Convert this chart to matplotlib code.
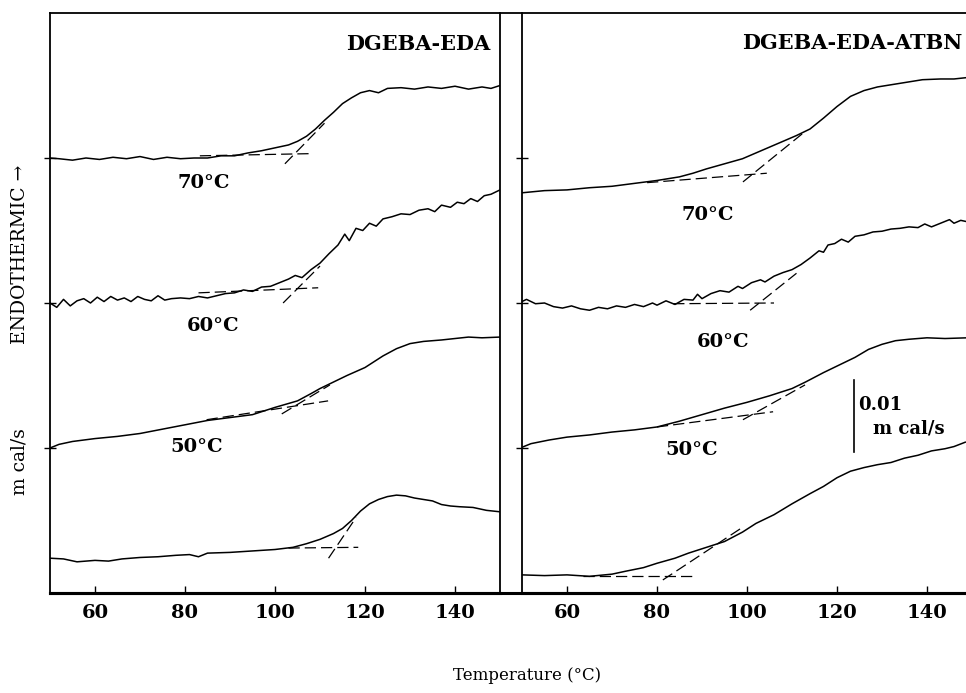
import matplotlib
matplotlib.use("Agg")
import matplotlib.pyplot as plt

plt.rcParams['font.family'] = ['DejaVu Serif']
plt.rcParams['font.weight'] = 'bold'

# heat flow in units of 0.001 m cal/s (offset traces), temperature in degC
# ---- DGEBA-EDA ----
l70_t = [50, 52, 55, 58, 61, 64, 67, 70, 73, 76, 79, 82, 85, 88, 91, 94, 97, 100, 103, 105,
         107, 109, 111, 113, 115, 117, 119, 121, 123, 125, 128, 131, 134, 137, 140, 143, 146, 148, 150]
l70_y = [60.0, 59.9, 59.7, 60.0, 59.8, 60.1, 59.9, 60.2, 59.8, 60.1, 59.9, 60.0, 60.0, 60.3, 60.3, 60.7,
         61.0, 61.4, 61.8, 62.3, 63.0, 64.0, 65.2, 66.3, 67.5, 68.3, 69.0, 69.3, 69.0, 69.6, 69.7,
         69.5, 69.8, 69.6, 69.9, 69.5, 69.8, 69.6, 70.0]

l60_t = [50, 51.5, 53, 54.5, 56, 57.5, 59, 60.5, 62, 63.5, 65, 66.5, 68, 69.5, 71, 72.5, 74, 75.5,
         77, 79, 81, 83, 85, 87, 89, 91, 93, 95, 97, 99, 101, 103, 104.5, 106, 108, 110, 112, 114,
         115.5, 116.5, 118, 119.5, 121, 122.5, 124, 126, 128, 130, 132, 134, 135.5, 137, 139, 140.5,
         142, 143.5, 145, 146.5, 148, 150]
l60_y = [40.0, 39.4, 40.5, 39.6, 40.3, 40.6, 40.0, 40.8, 40.2, 40.9, 40.4, 40.7, 40.2, 40.9, 40.5,
         40.3, 41.0, 40.4, 40.6, 40.7, 40.6, 40.9, 40.7, 41.0, 41.3, 41.4, 41.8, 41.6, 42.2, 42.3,
         42.8, 43.3, 43.8, 43.5, 44.6, 45.5, 46.8, 48.0, 49.5, 48.6, 50.3, 50.0, 51.0, 50.6, 51.6,
         51.9, 52.3, 52.2, 52.8, 53.0, 52.6, 53.5, 53.2, 53.9, 53.7, 54.4, 54.0, 54.8, 55.0, 55.6]

l50_t = [50, 52, 55, 60, 65, 70, 75, 80, 85, 90, 95, 100, 105, 108, 110, 113, 116, 120, 124, 127,
         130, 133, 137, 140, 143, 146, 150]
l50_y = [20.0, 20.5, 20.9, 21.3, 21.6, 22.0, 22.6, 23.2, 23.8, 24.2, 24.6, 25.6, 26.5, 27.5, 28.2,
         29.1, 30.0, 31.1, 32.7, 33.7, 34.4, 34.7, 34.9, 35.1, 35.3, 35.2, 35.3]

l40_t = [50, 53, 56, 60, 63, 66, 70, 74, 78, 81, 83, 85, 90, 95, 100, 104, 107, 110, 113, 115,
         117, 119, 121, 123, 125, 127, 129, 131, 133, 135, 137, 139, 141, 144, 147, 150]
l40_y = [4.8, 4.7, 4.3, 4.5, 4.4, 4.7, 4.9, 5.0, 5.2, 5.3, 5.0, 5.5, 5.6, 5.8, 6.0, 6.3, 6.8, 7.4,
         8.2, 8.9, 10.0, 11.3, 12.3, 12.9, 13.3, 13.5, 13.4, 13.1, 12.9, 12.7, 12.2, 12.0, 11.9,
         11.8, 11.4, 11.2]

# ---- DGEBA-EDA-ATBN ----
r70_t = [50, 55, 60, 65, 70, 75, 80, 85, 88, 91, 95, 99, 102, 105, 108, 111, 114, 117, 120, 123,
         126, 129, 132, 135, 139, 143, 146, 149]
r70_y = [55.2, 55.5, 55.6, 55.9, 56.1, 56.5, 56.9, 57.4, 57.9, 58.5, 59.2, 59.9, 60.7, 61.5, 62.3,
         63.1, 64.0, 65.5, 67.1, 68.5, 69.3, 69.8, 70.1, 70.4, 70.8, 70.9, 70.9, 71.1]

r60_t = [50, 51, 53, 55, 57, 59, 61, 63, 65, 67, 69, 71, 73, 75, 77, 79, 80, 82, 84, 86, 88, 89,
         90, 92, 94, 96, 98, 99, 101, 103, 104, 106, 108, 110, 112, 114, 116, 117, 118, 119.5, 121,
         122.5, 124, 126, 128, 130, 132, 134, 136, 138, 139.5, 141, 143, 145, 146, 147.5, 149]
r60_y = [40.2, 40.5, 39.9, 40.0, 39.5, 39.3, 39.6, 39.2, 39.0, 39.4, 39.2, 39.6, 39.4, 39.8, 39.5,
         40.0, 39.7, 40.3, 39.8, 40.5, 40.4, 41.2, 40.6, 41.3, 41.7, 41.5, 42.3, 42.0, 42.8, 43.2,
         42.9, 43.7, 44.2, 44.6, 45.3, 46.2, 47.2, 47.0, 48.0, 48.2, 48.8, 48.4, 49.2, 49.4, 49.8,
         49.9, 50.2, 50.3, 50.5, 50.4, 50.9, 50.5, 51.0, 51.5, 51.0, 51.4, 51.2]

r50_t = [50, 52, 56, 60, 65, 70, 75, 80, 85, 90, 95, 100, 105, 110, 113, 117, 121, 124, 127, 130,
         133, 136, 140, 144, 149]
r50_y = [20.1, 20.6, 21.1, 21.5, 21.8, 22.2, 22.5, 22.9, 23.7, 24.6, 25.5, 26.3, 27.2, 28.2, 29.1,
         30.4, 31.6, 32.5, 33.6, 34.3, 34.8, 35.0, 35.2, 35.1, 35.2]

r40_t = [50, 55, 60, 65, 70, 73, 77, 80, 84, 87, 91, 95, 99, 102, 106, 110, 114, 117, 120, 123,
         126, 129, 132, 135, 138, 141, 144, 146, 148.5]
r40_y = [2.5, 2.4, 2.5, 2.3, 2.6, 3.0, 3.5, 4.1, 4.8, 5.5, 6.3, 7.1, 8.4, 9.6, 10.8, 12.3, 13.7,
         14.7, 15.9, 16.8, 17.3, 17.7, 18.0, 18.6, 19.0, 19.6, 19.9, 20.2, 20.8]

# Tg construction lines: (T1, T2), (y1, y2)
left_tangents = [
    ((83.3, 107.8), (60.3, 60.6)), ((102.2, 111.0), (59.2, 64.8)),
    ((83.0, 109.6), (41.4, 42.1)), ((101.8, 110.0), (40.0, 45.1)),
    ((84.8, 111.8), (23.9, 26.5)), ((101.5, 112.2), (24.7, 28.7)),
    ((103.0, 118.5), (6.2, 6.3)), ((111.9, 118.0), (4.8, 10.4)),
]
right_tangents = [
    ((77.8, 104.4), (56.6, 57.9)), ((99.1, 112.4), (56.7, 63.4)),
    ((83.6, 106.0), (39.9, 40.0)), ((100.7, 111.0), (39.0, 44.1)),
    ((80.0, 105.8), (22.9, 25.0)), ((99.1, 112.9), (23.9, 28.7)),
    ((63.6, 87.8), (2.3, 2.3)), ((81.3, 99.1), (1.8, 9.1)),
]

cure_labels = ["70°C", "60°C", "50°C"]
left_label_pos = [(84.2, 56.6), (86.2, 36.8), (82.7, 20.1)]
right_label_pos = [(91.3, 52.1), (94.7, 34.6), (87.8, 19.7)]

W, H = 966, 693
fig = plt.figure(figsize=(W / 100, H / 100), dpi=100)

bot, top = 593, 13
# frame joining the two panels (top and bottom rules across the gap)
frame = fig.add_axes([50 / W, (H - bot) / H, (W - 50) / W, (bot - top) / H], zorder=0)
frame.set_xticks([])
frame.set_yticks([])
frame.spines['left'].set_visible(False)
frame.spines['right'].set_visible(False)
frame.spines['top'].set_linewidth(1.3)
frame.spines['bottom'].set_linewidth(2.2)

ax1 = fig.add_axes([50 / W, (H - bot) / H, 450 / W, (bot - top) / H], zorder=1)
ax2 = fig.add_axes([522 / W, (H - bot) / H, 444 / W, (bot - top) / H], zorder=1)

lw = 1.1
dash = (0, (9, 4))
for t, y in [(l70_t, l70_y), (l60_t, l60_y), (l50_t, l50_y), (l40_t, l40_y)]:
    ax1.plot(t, y, color='black', lw=lw)
for t, y in [(r70_t, r70_y), (r60_t, r60_y), (r50_t, r50_y), (r40_t, r40_y)]:
    ax2.plot(t, y, color='black', lw=lw)
for xs, ys in left_tangents:
    ax1.plot(xs, ys, color='black', lw=0.9, linestyle=dash)
for xs, ys in right_tangents:
    ax2.plot(xs, ys, color='black', lw=0.9, linestyle=dash)

for lab, (x, y) in zip(cure_labels, left_label_pos):
    ax1.text(x, y, lab, fontsize=14, ha='center', va='center')
for lab, (x, y) in zip(cure_labels, right_label_pos):
    ax2.text(x, y, lab, fontsize=14, ha='center', va='center')

ax1.text(0.978, 0.947, "DGEBA-EDA", transform=ax1.transAxes, fontsize=15,
         ha='right', va='center')
ax2.text(0.991, 0.948, "DGEBA-EDA-ATBN", transform=ax2.transAxes, fontsize=15,
         ha='right', va='center')

# 0.01 m cal/s scale bar
ax2.plot([123.8, 123.8], [19.4, 29.4], color='black', lw=1.2)
ax2.text(124.6, 26.0, "0.01", fontsize=13, ha='left', va='center')
ax2.text(128.0, 22.7, "m cal/s", fontsize=13, ha='left', va='center')

ax1.set_xlim(50, 150)
ax2.set_xlim(50, 50 + 444 / 4.5)
for ax in (ax1, ax2):
    ax.set_ylim(0, 80)
    ax.set_yticks([20, 40, 60])
    ax.set_yticklabels([])
    ax.set_xticks([60, 80, 100, 120, 140])
    ax.tick_params(axis='x', direction='in', length=5, width=1,
                   labelsize=14, pad=8)
    ax.tick_params(axis='y', direction='inout', length=8, width=1)
    ax.patch.set_alpha(0)
    ax.spines['top'].set_visible(False)
    ax.spines['bottom'].set_linewidth(2.2)
    ax.spines['left'].set_linewidth(1.3)
    ax.spines['right'].set_linewidth(1.3)
ax2.spines['right'].set_visible(False)

fig.text(20 / W, 1 - 254 / H, "ENDOTHERMIC →", rotation=90, fontsize=13.5,
         fontweight='normal', ha='center', va='center')
fig.text(20 / W, 1 - 462 / H, "m cal/s", rotation=90, fontsize=13.5,
         fontweight='normal', ha='center', va='center')
fig.text(527 / W, 1 - 676 / H, "Temperature (°C)", fontsize=12, fontweight='normal',
         ha='center', va='center')

fig.savefig("out.png", dpi=100)
